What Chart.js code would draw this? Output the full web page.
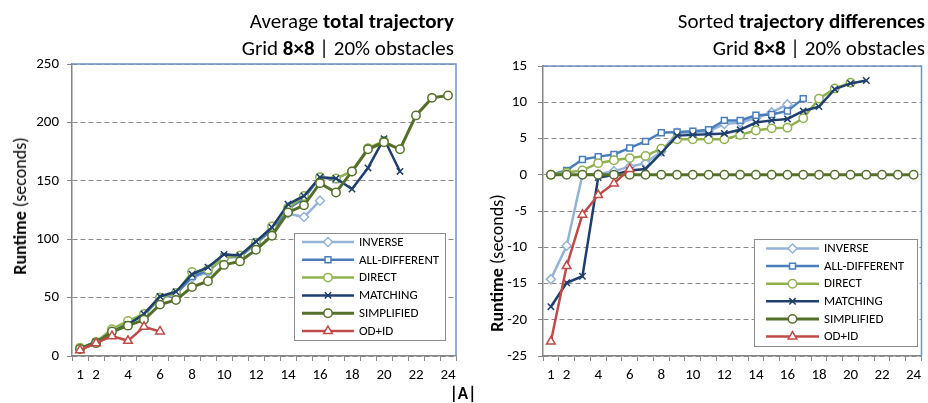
<!DOCTYPE html>
<html>
<head>
<meta charset="utf-8">
<script src="https://cdn.jsdelivr.net/npm/chart.js@4.4.1/dist/chart.umd.min.js"></script>
<style>
body { margin:0; background:#fff; width:928px; height:403px; position:relative; overflow:hidden; font-family:Carlito, Calibri, Lato, sans-serif; color:#000; }
canvas { position:absolute; top:0; }
#c1 { left:0; }
#c2 { left:465px; }
.ttl { position:absolute; text-align:right; font-size:21px; line-height:27px; white-space:nowrap; }
.ytl { position:absolute; font-size:18px; white-space:nowrap; transform:translate(-50%,-50%) rotate(-90deg); }
.xtl { position:absolute; font-size:17px; font-weight:bold; transform:translate(-50%,-50%); }
</style>
</head>
<body>
<canvas id="c1" width="465" height="403"></canvas>
<canvas id="c2" width="463" height="403"></canvas>

<div class="ttl" style="right:474px; top:8px;">Average <b>total trajectory</b><br>Grid <b>8×8</b> | 20% obstacles</div>
<div class="ttl" style="right:3px; top:8px;">Sorted <b>trajectory differences</b><br>Grid <b>8×8</b> | 20% obstacles</div>
<div class="ytl" style="left:20px; top:206px;"><b>Runtime</b> (seconds)</div>
<div class="ytl" style="left:497px; top:263px;"><b>Runtime</b> (seconds)</div>
<div class="xtl" style="left:463px; top:393px;">|A|</div>

<script>
const categorias = ['1','2','3','4','5','6','7','8','9','10','11','12','13','14','15','16','17','18','19','20','21','22','23','24'];

const namaSeri = ['INVERSE', 'ALL-DIFFERENT', 'DIRECT', 'MATCHING', 'SIMPLIFIED', 'OD+ID'];
const warnaSeri = ['#95b3d7', '#4a7ebb', '#8fb24f', '#1f3f6e', '#55702a', '#be4b48'];
const penanda = ['rectRot', 'rect', 'circle', 'crossRot', 'circle', 'triangle'];
const ukuranPenanda = [4.5, 4.2, 4.2, 4.5, 4.2, 5];

// average total trajectory (seconds)
const totInverse    = [6, 12, 21, 28, 35, 50, 53, 67, 72, 84, 85, 96, 108, 122, 119, 133];
const totAllDiff    = [6, 12, 21, 28, 35, 50, 53, 68, 73, 85, 85, 97, 108, 126, 135, 153, 151];
const totDirect     = [7, 12, 23, 30, 36, 50, 54, 72, 74, 84, 86, 97, 111, 127, 137, 153, 152, 158, 178, 184];
const totMatching   = [6, 12, 20, 27, 36, 51, 55, 70, 76, 87, 86, 98, 110, 130, 137, 153, 152, 143, 161, 186, 158];
const totSimplified = [6, 11, 21, 26, 31, 44, 48, 59, 64, 78, 81, 91, 103, 123, 129, 148, 140, 158, 177, 183, 177, 206, 221, 223];
const totOdid       = [5, 11, 17, 13, 25, 21];

// sorted trajectory differences (seconds)
const difInverse    = [-14.4, -9.8, 0, 0.1, 0.5, 1.1, 1.6, 3.2, 5.8, 5.8, 6.0, 7.0, 7.2, 7.8, 8.6, 9.7];
const difAllDiff    = [0, 0.6, 2.1, 2.5, 2.8, 3.7, 4.6, 5.8, 5.9, 6.0, 6.2, 7.5, 7.5, 8.2, 8.3, 8.8, 10.5];
const difDirect     = [0, 0.3, 0.6, 1.6, 2.0, 2.3, 2.6, 3.6, 4.9, 4.9, 4.9, 4.9, 5.5, 6.1, 6.4, 6.5, 7.8, 10.5, 11.9, 12.7];
const difMatching   = [-18.2, -14.9, -14.0, -0.4, 0, 0.6, 0.8, 3.0, 5.4, 5.5, 5.6, 5.7, 6.2, 7.2, 7.5, 7.7, 8.8, 9.4, 11.8, 12.6, 13.0];
const difSimplified = [0, 0, 0, 0, 0, 0, 0, 0, 0, 0, 0, 0, 0, 0, 0, 0, 0, 0, 0, 0, 0, 0, 0, 0];
const difOdid       = [-23.0, -12.6, -5.5, -2.8, -1.2, 0.8];

const fontTick = { family: 'Carlito, Calibri, Lato, sans-serif', size: 15 };

function buatDataset(semuaData) {
    return semuaData.map((d, i) => ({
        label: namaSeri[i], data: d,
        borderColor: warnaSeri[i], backgroundColor: '#fff',
        borderWidth: i === 4 ? 3 : 2.5,
        pointStyle: penanda[i], pointRadius: ukuranPenanda[i], pointHoverRadius: ukuranPenanda[i],
        pointBackgroundColor: '#fff', pointBorderColor: warnaSeri[i], pointBorderWidth: 1.5,
        tension: 0, order: 6 - i
    }));
}

const bingkai = {
    id: 'bingkai',
    beforeDatasetsDraw(chart) {
        const {ctx, chartArea: a} = chart;
        ctx.save();
        ctx.strokeStyle = '#6d93c9'; ctx.lineWidth = 1.5;
        ctx.beginPath(); ctx.moveTo(a.left, a.top); ctx.lineTo(a.right, a.top); ctx.lineTo(a.right, a.bottom); ctx.stroke();
        ctx.restore();
    }
};

const kotakLegenda = {
    id: 'kotakLegenda',
    afterDatasetsDraw(chart, args, o) {
        const ctx = chart.ctx;
        ctx.save();
        ctx.fillStyle = '#fff'; ctx.strokeStyle = '#8c8c8c'; ctx.lineWidth = 1;
        ctx.fillRect(o.x, o.y, o.w, o.h);
        ctx.strokeRect(o.x + 0.5, o.y + 0.5, o.w, o.h);
        ctx.font = '13px Carlito, Calibri, Lato, sans-serif';
        ctx.textBaseline = 'middle';
        chart.data.datasets.forEach((ds, i) => {
            const y = o.y + o.first + i * o.step;
            ctx.strokeStyle = ds.borderColor; ctx.lineWidth = ds.borderWidth;
            ctx.beginPath(); ctx.moveTo(o.x + o.l1, y); ctx.lineTo(o.x + o.l2, y); ctx.stroke();
            ctx.fillStyle = '#fff'; ctx.lineWidth = ds.pointBorderWidth;
            Chart.helpers.drawPoint(ctx, { pointStyle: ds.pointStyle, radius: ds.pointRadius, borderWidth: ds.pointBorderWidth, rotation: 0 }, o.x + (o.l1 + o.l2) / 2, y);
            ctx.fillStyle = '#000';
            ctx.fillText(ds.label, o.x + o.tx, y + 0.5);
        });
        ctx.restore();
    }
};

function opsi(cfg) {
    return {
        responsive: false, animation: false,
        layout: { padding: { left: 0, top: cfg.top, right: cfg.right, bottom: 0 } },
        plugins: { legend: { display: false }, tooltip: { enabled: false }, kotakLegenda: cfg.legenda },
        scales: {
            x: {
                type: 'category', offset: true,
                grid: { offset: true, drawOnChartArea: false, tickLength: 5, color: '#868686' },
                border: { color: '#868686', width: 1.5 },
                ticks: {
                    autoSkip: false, maxRotation: 0, padding: 5, color: '#000', font: fontTick,
                    callback: function(v, i) { const n = i + 1; return (n === 1 || n % 2 === 0) ? String(n) : ''; }
                },
                afterFit: s => { s.height = 47; }
            },
            y: {
                min: cfg.min, max: cfg.max,
                ticks: { stepSize: cfg.step, padding: cfg.pad, color: '#000', font: fontTick },
                grid: { color: '#8c8c8c', tickLength: 5, tickColor: '#868686', tickBorderDash: [] },
                border: { color: '#868686', width: 1.5, dash: [5, 3] },
                afterFit: s => { s.width = cfg.yw; }
            }
        }
    };
}

new Chart(document.getElementById('c1'), {
    type: 'line',
    data: { labels: categorias, datasets: buatDataset([totInverse, totAllDiff, totDirect, totMatching, totSimplified, totOdid]) },
    options: opsi({ top: 64, right: 9, min: 0, max: 250, step: 50, pad: 8, yw: 72,
        legenda: { x: 294, y: 233, w: 151, h: 107, first: 9, step: 17.8, l1: 8, l2: 60, tx: 65 } }),
    plugins: [bingkai, kotakLegenda]
});

new Chart(document.getElementById('c2'), {
    type: 'line',
    data: { labels: categorias, datasets: buatDataset([difInverse, difAllDiff, difDirect, difMatching, difSimplified, difOdid]) },
    options: opsi({ top: 66, right: 3, min: -25, max: 15, step: 5, pad: 11, yw: 78,
        legenda: { x: 289, y: 239, w: 163, h: 107, first: 9.5, step: 17.6, l1: 12, l2: 65, tx: 70 } }),
    plugins: [bingkai, kotakLegenda]
});
</script>
</body>
</html>
